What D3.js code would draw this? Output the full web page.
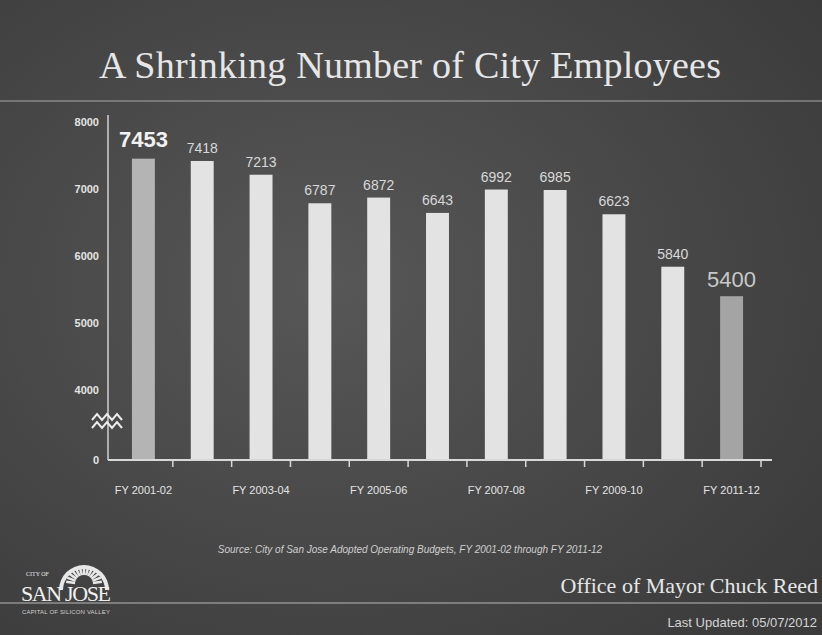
<!DOCTYPE html>
<html>
<head>
<meta charset="utf-8">
<script src="https://cdn.jsdelivr.net/npm/d3@7"></script>
<style>
  html, body { margin: 0; padding: 0; background: #3a3a3a; }
  svg { display: block; }
</style>
</head>
<body>
<div id="slide"></div>
<script>
// ---- data ----
var years = ["FY 2001-02", "FY 2002-03", "FY 2003-04", "FY 2004-05", "FY 2005-06",
             "FY 2006-07", "FY 2007-08", "FY 2008-09", "FY 2009-10", "FY 2010-11", "FY 2011-12"];
var employees = [7453, 7418, 7213, 6787, 6872, 6643, 6992, 6985, 6623, 5840, 5400];
var yTicks = [0, 4000, 5000, 6000, 7000, 8000];
var xLabels = ["FY 2001-02", "FY 2003-04", "FY 2005-06", "FY 2007-08", "FY 2009-10", "FY 2011-12"];

var W = 822, H = 635;
var txt = "#e4e4e4";

var svg = d3.select("#slide").append("svg")
  .attr("width", W)
  .attr("height", H);

/* background */
var defs = svg.append("defs");
var bg = defs.append("radialGradient")
  .attr("id", "bg")
  .attr("cx", "40%").attr("cy", "45%").attr("r", "75%");
bg.append("stop").attr("offset", "0%").attr("stop-color", "#575757");
bg.append("stop").attr("offset", "100%").attr("stop-color", "#3b3b3b");

svg.append("rect")
  .attr("width", W).attr("height", H)
  .attr("fill", "url(#bg)");

/* title */
svg.append("text")
  .attr("x", 410).attr("y", 78)
  .attr("text-anchor", "middle")
  .attr("textLength", 622)
  .style("font-family", "'Liberation Serif', 'DejaVu Serif', serif")
  .style("font-size", "38px")
  .style("fill", "#e6e6e6")
  .text("A Shrinking Number of City Employees");

svg.append("line")
  .attr("x1", 0).attr("x2", W)
  .attr("y1", 101).attr("y2", 101)
  .style("stroke", "#a8a8a8")
  .style("stroke-width", 1.2);

/* scales */
var x = d3.scaleBand()
  .domain(years)
  .range([114, 761])
  .paddingInner(0.61)
  .paddingOuter(0.305);

// broken axis: 0 sits just under 4000
var y = d3.scaleLinear()
  .domain([0, 4000, 8000])
  .range([460, 390, 122]);

var chart = svg.append("g").attr("class", "chart");

/* bars */
chart.selectAll("rect.bar")
  .data(employees)
  .enter().append("rect")
    .attr("class", "bar")
    .attr("x", function(d, i) { return x(years[i]); })
    .attr("width", x.bandwidth())
    .attr("y", function(d) { return y(d); })
    .attr("height", function(d) { return y(0) - y(d); })
    .style("fill", function(d, i) {
      if (i === 0) return "#b4b4b4";
      if (i === employees.length - 1) return "#a4a4a4";
      return "#e3e3e3";
    });

/* value labels */
chart.selectAll("text.val")
  .data(employees)
  .enter().append("text")
    .attr("class", "val")
    .attr("x", function(d, i) { return x(years[i]) + x.bandwidth() / 2; })
    .attr("y", function(d, i) {
      if (i === 0) return y(d) - 12;
      if (i === employees.length - 1) return y(d) - 9;
      return y(d) - 8;
    })
    .attr("text-anchor", "middle")
    .style("font-family", "'Liberation Sans', Arial, sans-serif")
    .style("font-size", function(d, i) {
      return (i === 0 || i === employees.length - 1) ? "22px" : "14px";
    })
    .style("font-weight", function(d, i) { return i === 0 ? "bold" : "normal"; })
    .style("fill", function(d, i) {
      if (i === 0) return "#f2f2f2";
      if (i === employees.length - 1) return "#c8c8c8";
      return "#d8d8d8";
    })
    .text(function(d) { return d; });

/* y axis */
var yAxis = chart.append("g")
  .attr("transform", "translate(108,0)")
  .call(d3.axisLeft(y).tickValues(yTicks).tickFormat(d3.format("d")).tickSize(0).tickPadding(9));
yAxis.select(".domain").remove();
yAxis.selectAll("text")
  .style("font-family", "'Liberation Sans', Arial, sans-serif")
  .style("font-size", "11px")
  .style("font-weight", "bold")
  .style("fill", txt);

chart.append("line")
  .attr("x1", 108).attr("x2", 108)
  .attr("y1", 115).attr("y2", y(0))
  .style("stroke", "#d0d0d0")
  .style("stroke-width", 1.5);

/* axis break marks */
var zig = d3.line();
[417, 425].forEach(function(cy) {
  var pts = [];
  for (var k = 0; k <= 6; k++) {
    pts.push([92 + k * 5, cy + (k % 2 === 0 ? 3 : -3)]);
  }
  chart.append("path")
    .attr("d", zig(pts))
    .style("fill", "none")
    .style("stroke", "#ececec")
    .style("stroke-width", 2);
});

/* x axis */
chart.append("line")
  .attr("x1", 108).attr("x2", 772)
  .attr("y1", y(0)).attr("y2", y(0))
  .style("stroke", "#d8d8d8")
  .style("stroke-width", 2);

chart.selectAll("line.xtick")
  .data(years)
  .enter().append("line")
    .attr("class", "xtick")
    .attr("x1", function(d) { return x(d) + x.bandwidth() / 2 + x.step() / 2; })
    .attr("x2", function(d) { return x(d) + x.bandwidth() / 2 + x.step() / 2; })
    .attr("y1", y(0)).attr("y2", y(0) + 7)
    .style("stroke", "#d8d8d8")
    .style("stroke-width", 1.5);

var xAxis = chart.append("g")
  .attr("transform", "translate(0," + (y(0) + 20) + ")")
  .call(d3.axisBottom(x).tickValues(xLabels).tickSize(0).tickPadding(6));
xAxis.select(".domain").remove();
xAxis.selectAll("text")
  .style("font-family", "'Liberation Sans', Arial, sans-serif")
  .style("font-size", "11px")
  .style("fill", txt);

/* source */
svg.append("text")
  .attr("x", 410).attr("y", 553)
  .attr("text-anchor", "middle")
  .style("font-family", "'Liberation Sans', Arial, sans-serif")
  .style("font-size", "10px")
  .style("font-style", "italic")
  .style("fill", "#cfcfcf")
  .text("Source: City of San Jose Adopted Operating Budgets, FY 2001-02 through FY 2011-12");

/* footer */
svg.append("line")
  .attr("x1", 0).attr("x2", W)
  .attr("y1", 603).attr("y2", 603)
  .style("stroke", "#b8b8b8")
  .style("stroke-width", 1.2);

svg.append("text")
  .attr("x", 818).attr("y", 593)
  .attr("text-anchor", "end")
  .style("font-family", "'Liberation Serif', 'DejaVu Serif', serif")
  .style("font-size", "22px")
  .style("fill", "#e6e6e6")
  .text("Office of Mayor Chuck Reed");

svg.append("text")
  .attr("x", 817).attr("y", 627)
  .attr("text-anchor", "end")
  .style("font-family", "'Liberation Sans', Arial, sans-serif")
  .style("font-size", "13px")
  .style("fill", "#d4d4d4")
  .text("Last Updated: 05/07/2012");

/* city logo */
var logo = svg.append("g").attr("class", "logo");
var sunX = 84, sunY = 590;
logo.append("path")
  .attr("d", d3.arc()({ innerRadius: 21, outerRadius: 25, startAngle: -Math.PI / 2, endAngle: Math.PI / 2 }))
  .attr("transform", "translate(" + sunX + "," + sunY + ")")
  .style("fill", "#e8e8e8");
d3.range(13).forEach(function(k) {
  var a = -Math.PI / 2 + (k + 0.5) * Math.PI / 13;
  logo.append("line")
    .attr("x1", sunX + Math.sin(a) * 9).attr("y1", sunY - 6 - Math.cos(a) * 9)
    .attr("x2", sunX + Math.sin(a) * 18).attr("y2", sunY - 6 - Math.cos(a) * 18)
    .style("stroke", "#e8e8e8")
    .style("stroke-width", 2.5);
});
logo.append("text")
  .attr("x", 26).attr("y", 576)
  .style("font-family", "'Liberation Serif', serif")
  .style("font-size", "6px")
  .style("fill", "#e8e8e8")
  .text("CITY OF");
logo.append("text")
  .attr("x", 66).attr("y", 601)
  .attr("text-anchor", "middle")
  .style("font-family", "'Liberation Serif', serif")
  .style("font-size", "22px")
  .style("fill", "#f0f0f0")
  .attr("textLength", 90)
  .text("SAN JOSE");
logo.append("text")
  .attr("x", 66).attr("y", 614)
  .attr("text-anchor", "middle")
  .style("font-family", "'Liberation Sans', sans-serif")
  .style("font-size", "6px")
  .style("fill", "#cfcfcf")
  .attr("textLength", 88)
  .text("CAPITAL OF SILICON VALLEY");
</script>
</body>
</html>
